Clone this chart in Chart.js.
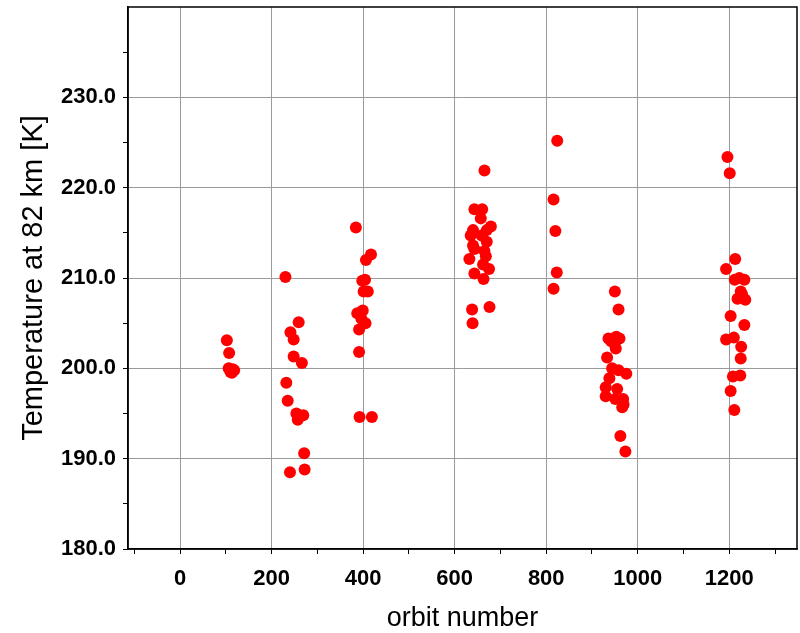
<!DOCTYPE html>
<html>
<head>
<meta charset="utf-8">
<script src="https://cdn.jsdelivr.net/npm/chart.js@4/dist/chart.umd.min.js"></script>
<style>
  html, body { margin: 0; padding: 0; background: #fff; }
  #wrap { width: 800px; height: 633px; }
</style>
</head>
<body>
<div id="wrap"><canvas id="chart" width="800" height="633"></canvas></div>
<script>
// orbit number / temperature pairs, grouped by observing campaign
const orbitsA = [102, 107, 106, 110, 115, 113, 118];
const tempsA  = [203.1, 201.7, 200.0, 199.6, 199.9, 199.5, 199.8];

const orbitsB = [230, 259, 241, 248, 248, 266, 232, 235, 254, 269, 257, 271, 272, 240];
const tempsB  = [210.1, 205.1, 204.0, 203.2, 201.3, 200.6, 198.4, 196.4, 195.0, 194.8, 194.3, 190.6, 188.8, 188.5];

const orbitsC = [384, 417, 406, 398, 404, 410, 401, 399, 387, 405, 391, 396, 391, 392, 419];
const tempsC  = [215.6, 212.6, 212.0, 209.7, 209.8, 208.5, 208.5, 206.4, 206.1, 205.0, 204.3, 205.5, 201.8, 194.6, 194.6];

const orbitsD = [665, 643, 660, 679, 640, 657, 635, 659, 670, 670, 640, 643, 665, 668, 632, 662, 675, 643, 663, 638, 676, 639];
const tempsD  = [221.9, 217.6, 217.6, 215.7, 215.3, 216.6, 214.7, 214.7, 215.3, 214.0, 213.6, 213.2, 213.0, 212.4, 212.1, 211.5, 211.0, 210.5, 209.9, 206.5, 206.8, 205.0];

const orbitsE = [824, 816, 820, 823, 816];
const tempsE  = [225.2, 218.7, 215.2, 210.6, 208.8];

const orbitsF = [950, 958, 936, 960, 949, 952, 933, 944, 958, 975, 938, 930, 955, 930, 951, 968, 966, 969, 962, 973, 942, 953];
const tempsF  = [208.5, 206.5, 203.3, 203.3, 202.7, 202.2, 201.2, 200.0, 199.8, 199.4, 198.9, 197.9, 197.7, 196.9, 196.6, 196.6, 195.7, 196.0, 192.5, 190.8, 203.0, 203.5];

const orbitsG = [1196, 1201, 1193, 1213, 1212, 1222, 1233, 1225, 1228, 1218, 1235, 1203, 1233, 1193, 1210, 1226, 1225, 1208, 1224, 1203, 1211];
const tempsG  = [223.4, 221.6, 211.0, 212.1, 209.8, 210.0, 209.8, 208.5, 208.2, 207.7, 207.6, 205.8, 204.8, 203.2, 203.4, 202.4, 201.1, 199.1, 199.2, 197.5, 195.4];

const groups = [
  [orbitsA, tempsA], [orbitsB, tempsB], [orbitsC, tempsC], [orbitsD, tempsD],
  [orbitsE, tempsE], [orbitsF, tempsF], [orbitsG, tempsG]
];

const points = [];
groups.forEach(([xs, ys]) => xs.forEach((x, i) => points.push({ x, y: ys[i] })));

const GRID = "#9a9a9a";
const FONT = "'Liberation Sans', Arial, sans-serif";

// box around the plot area (top and right sides are not axes)
const frame = {
  id: "frame",
  afterDraw(chart) {
    const { ctx, chartArea: a } = chart;
    ctx.save();
    ctx.strokeStyle = "#000";
    ctx.lineWidth = 1.5;
    ctx.strokeRect(a.left, a.top, a.right - a.left, a.bottom - a.top);
    ctx.restore();
  }
};

new Chart(document.getElementById("chart"), {
  type: "scatter",
  data: {
    datasets: [{
      data: points,
      backgroundColor: "#ff0000",
      borderWidth: 0,
      pointRadius: 6,
      pointHoverRadius: 6
    }]
  },
  options: {
    responsive: false,
    animation: false,
    events: [],
    layout: { autoPadding: false, padding: { left: 0, right: 3, top: 7, bottom: 0 } },
    plugins: { legend: { display: false }, tooltip: { enabled: false } },
    scales: {
      x: {
        type: "linear",
        min: -114,
        max: 1348,
        afterFit: s => { s.height = 84; s.paddingLeft = 0; s.paddingRight = 0; },
        border: { display: true, color: "#000", width: 1.5 },
        grid: {
          color: c => (c.tick && c.tick.value % 200 === 0) ? GRID : "transparent",
          tickColor: "#000",
          tickLength: 5,
          lineWidth: 1
        },
        ticks: {
          stepSize: 100,
          includeBounds: false,
          autoSkip: false,
          maxRotation: 0,
          padding: 12,
          color: "#000",
          font: { family: FONT, size: 22, weight: "bold" },
          callback: v => v % 200 === 0 ? String(v) : ""
        },
        title: {
          display: true,
          text: "orbit number",
          color: "#000",
          font: { family: FONT, size: 27 },
          padding: { top: 0, bottom: -2 }
        }
      },
      y: {
        type: "linear",
        min: 180,
        max: 240,
        afterFit: s => { s.width = 128; s.paddingTop = 0; s.paddingBottom = 0; },
        border: { display: true, color: "#000", width: 1.5 },
        grid: {
          color: c => (c.tick && c.tick.value % 10 === 0 && c.tick.value > 180 && c.tick.value < 240) ? GRID : "transparent",
          tickColor: c => (c.tick && c.tick.value < 240) ? "#000" : "transparent",
          tickLength: 5,
          lineWidth: 1
        },
        ticks: {
          stepSize: 5,
          autoSkip: false,
          padding: 7,
          color: "#000",
          font: { family: FONT, size: 22, weight: "bold" },
          callback: v => (v % 10 === 0 && v < 240) ? v.toFixed(1) : ""
        },
        title: {
          display: true,
          text: "Temperature at 82 km [K]",
          color: "#000",
          font: { family: FONT, size: 29 },
          padding: { top: 17, bottom: 0 }
        }
      }
    }
  },
  plugins: [frame]
});
</script>
</body>
</html>
